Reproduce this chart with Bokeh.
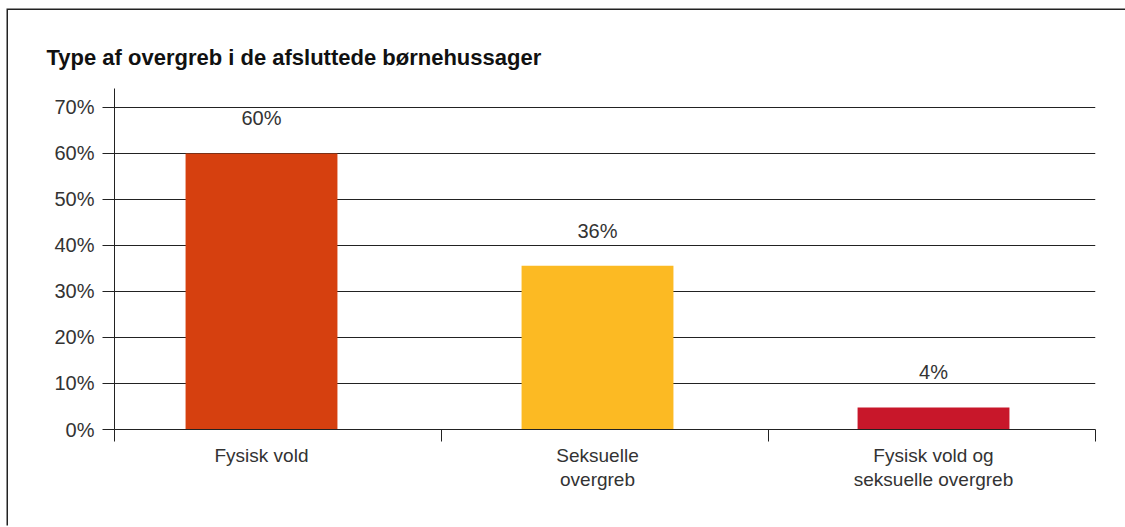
import numpy as np
from bokeh.plotting import figure
from bokeh.models import ColumnDataSource, FixedTicker, PrintfTickFormatter, Range1d
from bokeh.core.properties import value
from bokeh.embed import file_html
from bokeh.resources import INLINE

# --- data ---
categories = ["Fysisk vold", "Seksuelle\novergreb", "Fysisk vold og\nseksuelle overgreb"]
shares = [60.0, 35.6, 4.8]
share_labels = ["60%", "36%", "4%"]
colors = ["#D6400F", "#FCBA23", "#C8172A"]
y_ticks = [0, 10, 20, 30, 40, 50, 60, 70]

FONT = "Liberation Sans"
DARK = "#222222"
TXT = "#333333"

idx = list(range(len(categories)))
src = ColumnDataSource(dict(x=idx, top=shares, label=share_labels, color=colors))

x_start, x_end = -0.4375, 2.4821
y_start, y_end = 0, 74.1

p = figure(
    frame_width=981, frame_height=341,
    x_range=Range1d(x_start, x_end), y_range=Range1d(y_start, y_end),
    output_backend="svg", toolbar_location=None,
    min_border_left=106, min_border_right=40, min_border_top=78, min_border_bottom=98,
    margin=(10, 0, 0, 8),
)
p.styles = {"box-shadow": "-1.5px -1.5px 0px 0px #222222"}
p.outline_line_color = None
p.background_fill_color = "white"
p.border_fill_color = "white"

# title
p.title.text = "Type af overgreb i de afsluttede børnehussager"
p.title.text_font = FONT
p.title.text_font_size = "22px"
p.title.text_font_style = "bold"
p.title.text_color = "#111111"
p.title.align = "left"
p.title.offset = -68
p.title.standoff = 37

# bars
p.vbar(x="x", top="top", width=0.452, bottom=0, color="color", line_color=None, source=src)

# bar labels
p.text(x="x", y="top", text="label", source=src, text_align="center",
       text_baseline="alphabetic", y_offset=-35, text_font=value(FONT),
       text_font_size="20px", text_color=TXT)

# grid
p.xgrid.visible = False
p.ygrid.ticker = FixedTicker(ticks=y_ticks)
p.ygrid.grid_line_color = DARK
p.ygrid.grid_line_width = 1

# y axis
ya = p.yaxis[0]
ya.ticker = FixedTicker(ticks=y_ticks)
ya.formatter = PrintfTickFormatter(format="%d%%")
ya.axis_line_color = DARK
ya.major_tick_line_color = DARK
ya.major_tick_out = 12
ya.major_tick_in = 0
ya.minor_tick_line_color = None
ya.major_label_standoff = 8
ya.major_label_text_font = FONT
ya.major_label_text_font_size = "20px"
ya.major_label_text_color = TXT

# x axis: labels at bar centres, separator ticks at category boundaries
bounds = list(np.linspace(x_start, x_end, len(categories) + 1))
bounds[-1] = x_end - 1e-6
xa = p.xaxis[0]
xa.ticker = FixedTicker(ticks=idx, minor_ticks=bounds)
xa.major_label_overrides = {i: c for i, c in zip(idx, categories)}
xa.axis_line_color = DARK
xa.major_tick_line_color = None
xa.major_tick_out = 0
xa.major_tick_in = 0
xa.minor_tick_line_color = DARK
xa.minor_tick_out = 12
xa.minor_tick_in = 0
xa.major_label_standoff = 3
xa.major_label_text_font = FONT
xa.major_label_text_font_size = "19px"
xa.major_label_text_color = TXT
xa.major_label_text_line_height = 1.15
xa.major_label_text_baseline = "middle"

open("out.html", "w").write(file_html(p, INLINE))
